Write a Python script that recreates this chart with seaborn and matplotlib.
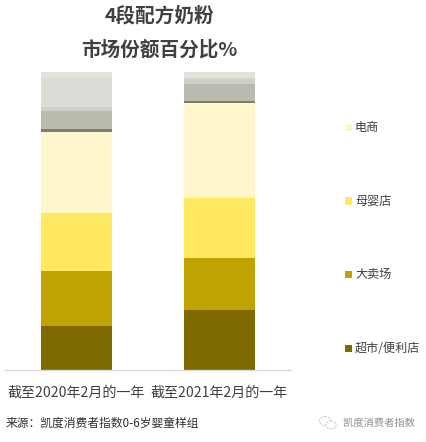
import matplotlib
matplotlib.use("Agg")
import matplotlib.pyplot as plt
import matplotlib.patheffects as pe
from matplotlib.patches import Ellipse
import seaborn as sns
import pandas as pd

sns.set_style("white")
plt.rcParams["font.family"] = ["Noto Sans CJK SC", "DejaVu Sans"]

periods = ["截至2020年2月的一年", "截至2021年2月的一年"]
channels = ["超市/便利店", "大卖场", "母婴店", "电商",
            "其他1", "其他2", "其他3", "其他4", "其他5"]
share_2020 = [14.8, 18.4, 19.5, 27.2, 1.0, 6.0, 1.3, 9.8, 2.0]
share_2021 = [20.1, 17.5, 20.1, 31.9, 0.7, 5.7, 1.7, 0.7, 1.6]
colors = ["#7F6A00", "#BFA300", "#FFE862", "#FFF6CC",
          "#7E7C6E", "#BBBAAE", "#CFCFC8", "#DCDCD6", "#E3E3DE"]
legend_channels = ["电商", "母婴店", "大卖场", "超市/便利店"]
legend_y = [127.5, 201.5, 274.5, 348.5]

df = pd.DataFrame({"period": periods * len(channels),
                   "channel": [c for c in channels for _ in periods],
                   "share": [v for pair in zip(share_2020, share_2021) for v in pair]})

W, H = 426, 442
fig = plt.figure(figsize=(W / 100, H / 100), dpi=100)
ax = fig.add_axes([5 / W, 1 - 370 / H, 286 / W, 298 / H])

bottoms = [0.0, 0.0]
for channel, color in zip(channels, colors):
    part = df[df["channel"] == channel]
    sns.barplot(data=part, x="period", y="share", order=periods, color=color,
                width=0.503, bottom=bottoms, saturation=1, linewidth=0, ax=ax)
    bottoms = [b + v for b, v in zip(bottoms, part["share"])]

ax.set_xlim(-0.5, 1.5)
ax.set_ylim(0, 100)
ax.set_xlabel("")
ax.set_ylabel("")
ax.set_yticks([])
ax.tick_params(axis="x", length=0, pad=11.5, labelsize=10.1, labelcolor="#404040")
sns.despine(ax=ax, left=True)
ax.spines["bottom"].set_color("#D9D9D9")
ax.spines["bottom"].set_linewidth(1)


def px_text(x, y, s, **kw):
    return fig.text(x / W, 1 - y / H, s, va="center", **kw)


px_text(159.5, 16, "4段配方奶粉", ha="center", fontsize=14.1, fontweight="bold", color="#404040")
px_text(159.5, 50, "市场份额百分比%", ha="center", fontsize=14.1, fontweight="bold", color="#404040")

# Channel key on the right
for name, y in zip(legend_channels, legend_y):
    color = colors[channels.index(name)]
    fig.patches.append(plt.Rectangle((345 / W, 1 - (y + 3) / H), 7 / W, 7 / H,
                                     transform=fig.transFigure, color=color, lw=0))
    px_text(355, y, name, ha="left", fontsize=8.7, color="#404040")

px_text(6, 423, "来源：凯度消费者指数0-6岁婴童样组", ha="left", fontsize=8.5, color="#303030")

# Account mark and name at the lower right
outline = [pe.withStroke(linewidth=1.5, foreground="white")]
px_text(343, 423, "凯度消费者指数", ha="left", fontsize=7.4, color="#8C8C8C", path_effects=outline)
overlay = fig.add_axes([0, 0, 1, 1], facecolor="none")
overlay.set_xlim(0, W)
overlay.set_ylim(H, 0)
overlay.axis("off")
overlay.add_patch(Ellipse((325, 421), 11, 9, fc="white", ec="#CFCFCF", lw=0.8, ls=(0, (2, 1))))
overlay.add_patch(Ellipse((331, 425), 10, 8, fc="white", ec="#CFCFCF", lw=0.8, ls=(0, (2, 1))))

fig.savefig("out.png", dpi=100, facecolor="white")
